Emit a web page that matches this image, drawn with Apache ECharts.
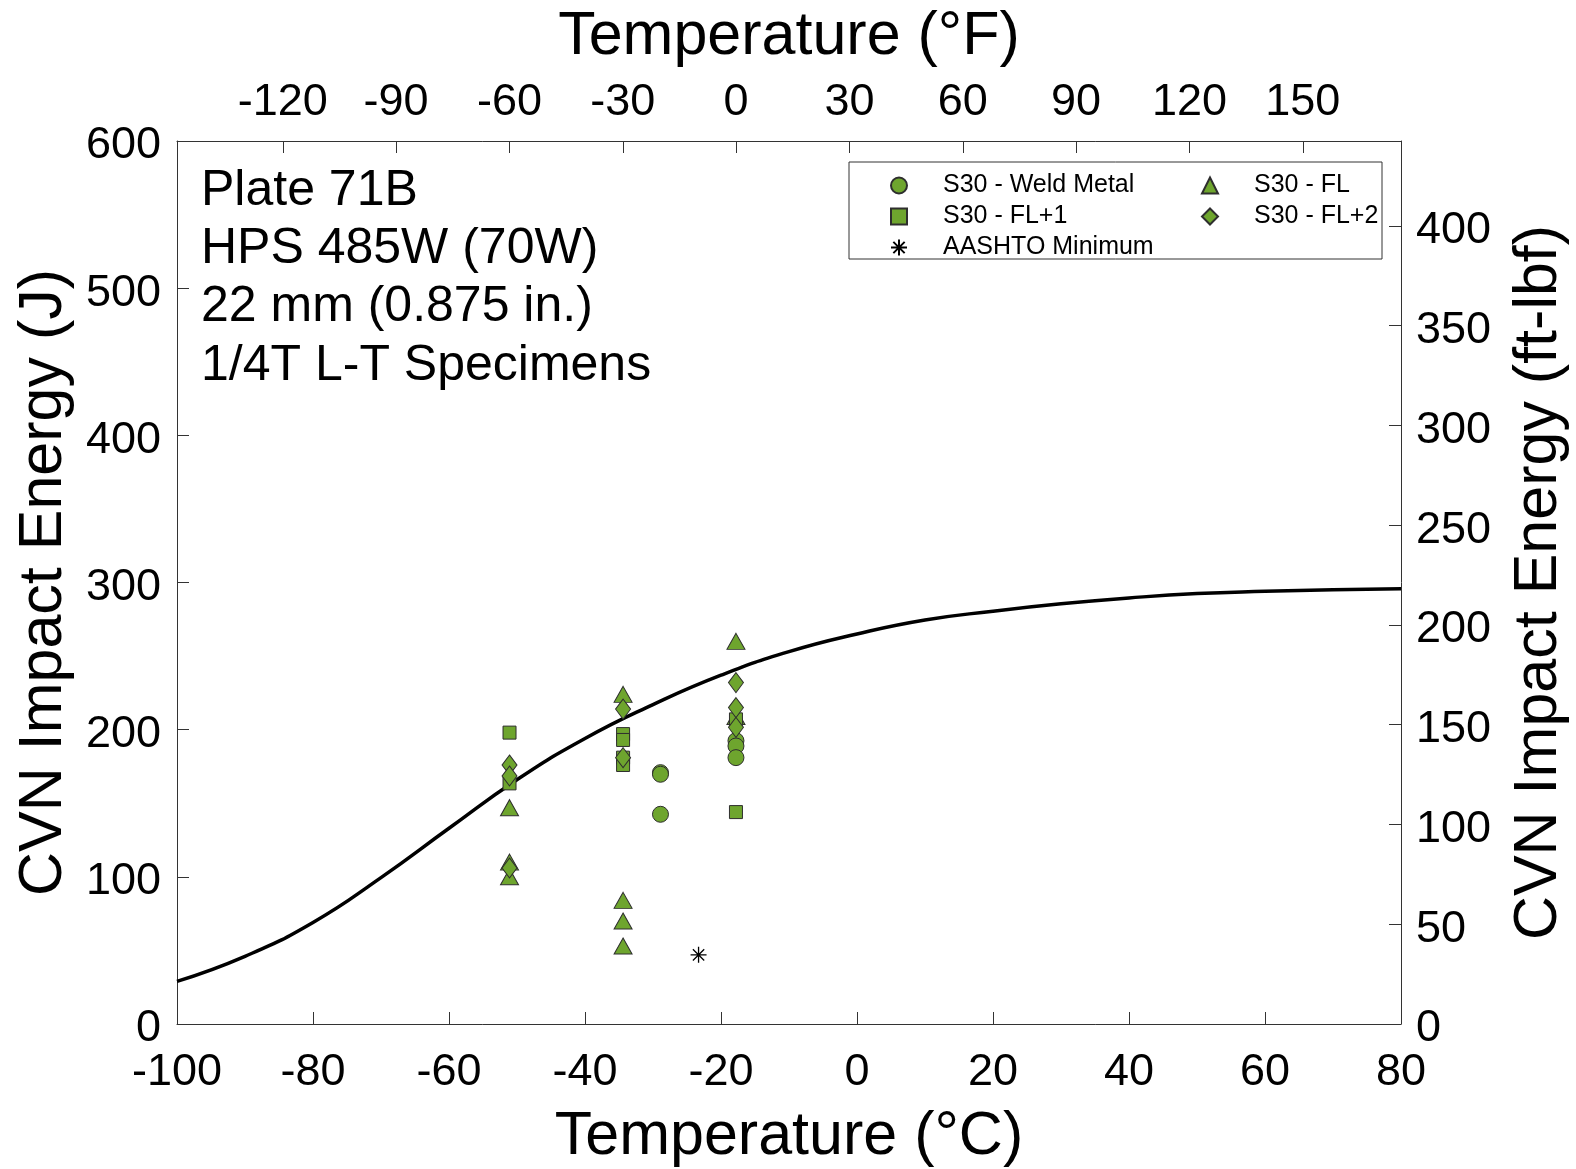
<!DOCTYPE html>
<html>
<head>
<meta charset="utf-8">
<script src="https://cdn.jsdelivr.net/npm/echarts@6/dist/echarts.min.js"></script>
<style>
html,body{margin:0;padding:0;background:#fff;}
#chart{width:1576px;height:1169px;}
</style>
</head>
<body>
<div id="chart"></div>
<script>
// ---- Data (temperatures in °C, energies in J) ----
const weldMetal = [[-28.9,170.8],[-28.9,169.7],[-28.9,142.5],[-17.8,192.5],[-17.8,188.9],[-17.8,181]];
const flTri = [[-51.1,147],[-51.1,110],[-51.1,100],[-34.4,224],[-34.4,84],[-34.4,70],[-34.4,53],[-17.8,260],[-17.8,209]];
const fl1Sq = [[-51.1,198],[-51.1,163.5],[-34.4,197],[-34.4,193],[-34.4,181],[-34.4,176],[-17.8,207],[-17.8,144]];
const fl2Dia = [[-51.1,176],[-51.1,168.5],[-51.1,106],[-34.4,214],[-34.4,181],[-17.8,232],[-17.8,215],[-17.8,201.6]];
const aashto = [[-23.3,47]];
const curveT = [-100,-90,-80,-70,-60,-50,-40,-30,-20,-10,0,10,20,30,40,50,60,70,80];
const curveE = [29,46,69,99.5,133,166,194,217,237,253,265,274.5,280.5,285.5,289.5,292.5,294,295,295.7];
const tickC = [-100,-80,-60,-40,-20,0,20,40,60,80];
const tickF = [-120,-90,-60,-30,0,30,60,90,120,150];
const tickJ = [0,100,200,300,400,500,600];
const tickFtlb = [0,50,100,150,200,250,300,350,400];
const annotLines = ['Plate 71B','HPS 485W (70W)','22 mm (0.875 in.)','1/4T L-T Specimens'];

const J_PER_FTLB = 1.35582;
const FONT = "'Liberation Sans', Arial, Helvetica, sans-serif";
const GREEN = '#6ea52e';
const EDGE = '#2e2e2e';
const AX = '#333333';

const chart = echarts.init(document.getElementById('chart'));

const tickStyle = {show:true,inside:true,length:12,lineStyle:{color:AX,width:1}};
const axisCommon = {
  axisLine:{show:true,onZero:false,lineStyle:{color:AX,width:1}},
  splitLine:{show:false},
  nameTextStyle:{fontFamily:FONT,fontSize:61,color:'#000'},
};
const labelCommon = {fontFamily:FONT,fontSize:45,color:'#000'};
const yLabelRich = {a:{fontFamily:FONT,fontSize:45,color:'#000',padding:[10,0,0,0]}};

const markStyle = {color:GREEN,borderColor:EDGE,borderWidth:1,opacity:1};

const legendText = {fontFamily:FONT,fontSize:25,color:'#000',lineHeight:25,
  rich:{pad:{width:31,fontSize:25,lineHeight:25}}};

const option = {
  backgroundColor:'#fff',
  animation:false,
  grid:{left:177,right:175,top:141,bottom:145,containLabel:false,outerBoundsMode:'none'},
  xAxis:[
    Object.assign({}, axisCommon, {
      type:'value', position:'bottom', min:-100, max:80, interval:20,
      name:'Temperature (°C)', nameLocation:'middle', nameGap:83,
      axisTick:Object.assign({}, tickStyle, {customValues:tickC}),
      axisLabel:Object.assign({}, labelCommon, {margin:26, customValues:tickC})
    }),
    Object.assign({}, axisCommon, {
      type:'value', position:'top', min:-100*9/5+32, max:80*9/5+32,
      name:'Temperature (°F)', nameLocation:'middle', nameGap:73,
      axisTick:Object.assign({}, tickStyle, {customValues:tickF}),
      axisLabel:Object.assign({}, labelCommon, {margin:16, customValues:tickF})
    })
  ],
  yAxis:[
    Object.assign({}, axisCommon, {
      type:'value', position:'left', min:0, max:600, interval:100,
      name:'CVN Impact Energy (J)', nameLocation:'middle', nameGap:96,
      axisTick:Object.assign({}, tickStyle, {customValues:tickJ}),
      axisLabel:Object.assign({}, labelCommon, {margin:16, customValues:tickJ,
        formatter:v=>'{a|'+v+'}', rich:yLabelRich})
    }),
    Object.assign({}, axisCommon, {
      type:'value', position:'right', min:0, max:600/J_PER_FTLB,
      name:'CVN Impact Energy (ft-lbf)', nameLocation:'middle', nameGap:108,
      nameRotate:90,
      axisTick:Object.assign({}, tickStyle, {customValues:tickFtlb}),
      axisLabel:Object.assign({}, labelCommon, {margin:15, customValues:tickFtlb,
        formatter:v=>'{a|'+v+'}', rich:yLabelRich})
    })
  ],
  legend:[
    {
      orient:'vertical', left:885, top:168, itemWidth:16, itemHeight:16, itemGap:6,
      data:['S30 - Weld Metal','S30 - FL+1','AASHTO Minimum'],
      formatter:n=>'{pad| }'+n,
      textStyle:legendText, selectedMode:false, z:10
    },
    {
      orient:'vertical', left:1196, top:168, itemWidth:16, itemHeight:16, itemGap:6,
      data:['S30 - FL','S30 - FL+2'],
      formatter:n=>'{pad| }'+n,
      textStyle:legendText, selectedMode:false, z:10
    }
  ],
  graphic:[
    {type:'rect', z:5, shape:{x:849,y:162,width:533,height:97}, style:{fill:'#fff',stroke:'#333',lineWidth:1}},
  ].concat(annotLines.map((t,i)=>({
    type:'text', z:5, left:201, top:194 + i*58.3 - 28,
    style:{text:t, fontFamily:FONT, fontSize:50, fill:'#000'}
  }))),
  series:[
    {
      name:'Fit', type:'line', xAxisIndex:0, yAxisIndex:0, smooth:true, showSymbol:false,
      lineStyle:{color:'#000',width:3.5}, data:curveT.map((t,i)=>[t,curveE[i]]), z:2, silent:true
    },
    {name:'S30 - Weld Metal', type:'scatter', symbol:'circle', symbolSize:16, itemStyle:markStyle, data:weldMetal, z:3},
    {name:'S30 - FL', type:'scatter', symbol:'triangle', symbolSize:[18,16], itemStyle:markStyle, data:flTri, z:3},
    {name:'S30 - FL+1', type:'scatter', symbol:'rect', symbolSize:13, itemStyle:markStyle, data:fl1Sq, z:3},
    {name:'S30 - FL+2', type:'scatter', symbol:'diamond', symbolSize:[15,20], itemStyle:markStyle, data:fl2Dia, z:3},
    {name:'AASHTO Minimum', type:'scatter',
     symbol:'path://M0,-10L0,10M-10,0L10,0M-7.07,-7.07L7.07,7.07M-7.07,7.07L7.07,-7.07',
     symbolSize:16, itemStyle:{color:'#000',borderColor:'#000',borderWidth:1.3,opacity:1}, data:aashto, z:3}
  ]
};
chart.setOption(option);
</script>
</body>
</html>
